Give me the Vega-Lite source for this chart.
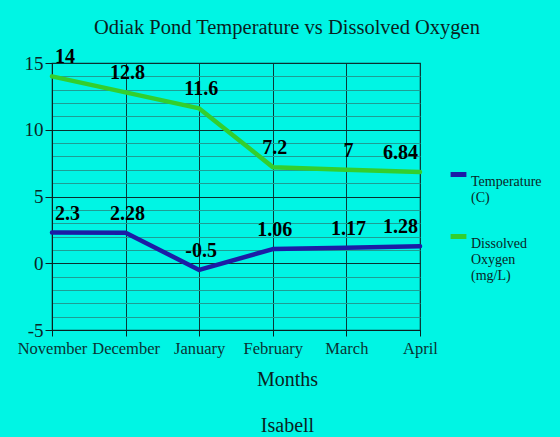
{
  "$schema": "https://vega.github.io/schema/vega-lite/v6.json",
  "width": 368,
  "height": 267,
  "autosize": {"type": "none"},
  "padding": {"left": 52, "top": 63, "right": 140, "bottom": 107},
  "background": "#00F5E4",
  "config": {
    "font": "Liberation Serif",
    "view": {"stroke": "#0a3a3a", "strokeWidth": 1.2}
  },
  "title": {
    "text": "Odiak Pond Temperature vs Dissolved Oxygen",
    "font": "Liberation Serif",
    "fontSize": 20.5,
    "fontWeight": "normal",
    "color": "#0a1f1f",
    "anchor": "middle",
    "dx": 51,
    "offset": 9
  },
  "data": {
    "values": [
      {"month": "November", "series": "Temperature (C)", "value": 2.3},
      {"month": "December", "series": "Temperature (C)", "value": 2.28},
      {"month": "January", "series": "Temperature (C)", "value": -0.5},
      {"month": "February", "series": "Temperature (C)", "value": 1.06},
      {"month": "March", "series": "Temperature (C)", "value": 1.17},
      {"month": "April", "series": "Temperature (C)", "value": 1.28},
      {"month": "November", "series": "Dissolved Oxygen (mg/L)", "value": 14},
      {"month": "December", "series": "Dissolved Oxygen (mg/L)", "value": 12.8},
      {"month": "January", "series": "Dissolved Oxygen (mg/L)", "value": 11.6},
      {"month": "February", "series": "Dissolved Oxygen (mg/L)", "value": 7.2},
      {"month": "March", "series": "Dissolved Oxygen (mg/L)", "value": 7},
      {"month": "April", "series": "Dissolved Oxygen (mg/L)", "value": 6.84}
    ]
  },
  "encoding": {
    "x": {
      "field": "month",
      "type": "ordinal",
      "sort": ["November", "December", "January", "February", "March", "April"],
      "scale": {"type": "point", "padding": 0},
      "axis": {
        "title": ["Months", "Isabell"],
        "titleFont": "Liberation Serif",
        "titleFontSize": 20,
        "titleFontWeight": "normal",
        "titleColor": "#0a1f1f",
        "titleLineHeight": 46,
        "titleX": 235,
        "titleAlign": "center",
        "titlePadding": 13,
        "labelFont": "Liberation Serif",
        "labelFontSize": 16.5,
        "labelColor": "#0a3333",
        "labelAngle": 0,
        "labelPadding": 4,
        "tickSize": 6,
        "tickColor": "#0a2020",
        "domainColor": "#0a2020",
        "grid": true,
        "gridColor": "#0a3a3a",
        "gridOpacity": 1
      }
    },
    "y": {
      "field": "value",
      "type": "quantitative",
      "scale": {"domain": [-5, 15], "nice": false, "zero": false},
      "axis": {
        "title": null,
        "values": [-5, -4, -3, -2, -1, 0, 1, 2, 3, 4, 5, 6, 7, 8, 9, 10, 11, 12, 13, 14, 15],
        "labelExpr": "datum.value % 5 == 0 ? toString(datum.value) : ''",
        "labelFont": "Liberation Serif",
        "labelFontSize": 19,
        "labelColor": "#0a2626",
        "labelPadding": 2,
        "tickSize": 7,
        "tickColor": {"condition": {"test": "datum.value % 5 == 0", "value": "#0a2020"}, "value": "transparent"},
        "domainColor": "#0a2020",
        "grid": true,
        "gridColor": {"condition": {"test": "datum.value % 5 == 0", "value": "#0a3030"}, "value": "#1e9e94"},
        "gridOpacity": 1
      }
    }
  },
  "layer": [
    {
      "mark": {"type": "line", "strokeWidth": 4.5, "strokeCap": "round", "strokeJoin": "round"},
      "encoding": {
        "color": {
          "field": "series",
          "type": "nominal",
          "scale": {"domain": ["Temperature (C)", "Dissolved Oxygen (mg/L)"], "range": ["#1c1ca6", "#33cf2e"]},
          "legend": {
            "title": null,
            "orient": "none",
            "legendX": 396,
            "legendY": 101,
            "symbolType": "stroke",
            "symbolStrokeWidth": 5,
            "symbolSize": 250,
            "labelExpr": "split(datum.label, ' ')",
            "labelFont": "Liberation Serif",
            "labelFontSize": 14,
            "labelColor": "#0a2626",
            "labelBaseline": "top",
            "labelLimit": 200,
            "rowPadding": 21,
            "labelOffset": 2
          }
        }
      }
    },
    {
      "mark": {
        "type": "text",
        "font": "Liberation Serif",
        "fontSize": 20,
        "fontWeight": "bold",
        "color": "#000000",
        "baseline": "middle",
        "dy": -19,
        "align": {"expr": "datum.month == 'November' ? 'left' : datum.month == 'April' ? 'right' : 'center'"},
        "dx": {"expr": "datum.month == 'November' ? 3 : datum.month == 'April' ? -2 : 2"}
      },
      "encoding": {
        "text": {"field": "value", "type": "nominal"}
      }
    }
  ]
}
